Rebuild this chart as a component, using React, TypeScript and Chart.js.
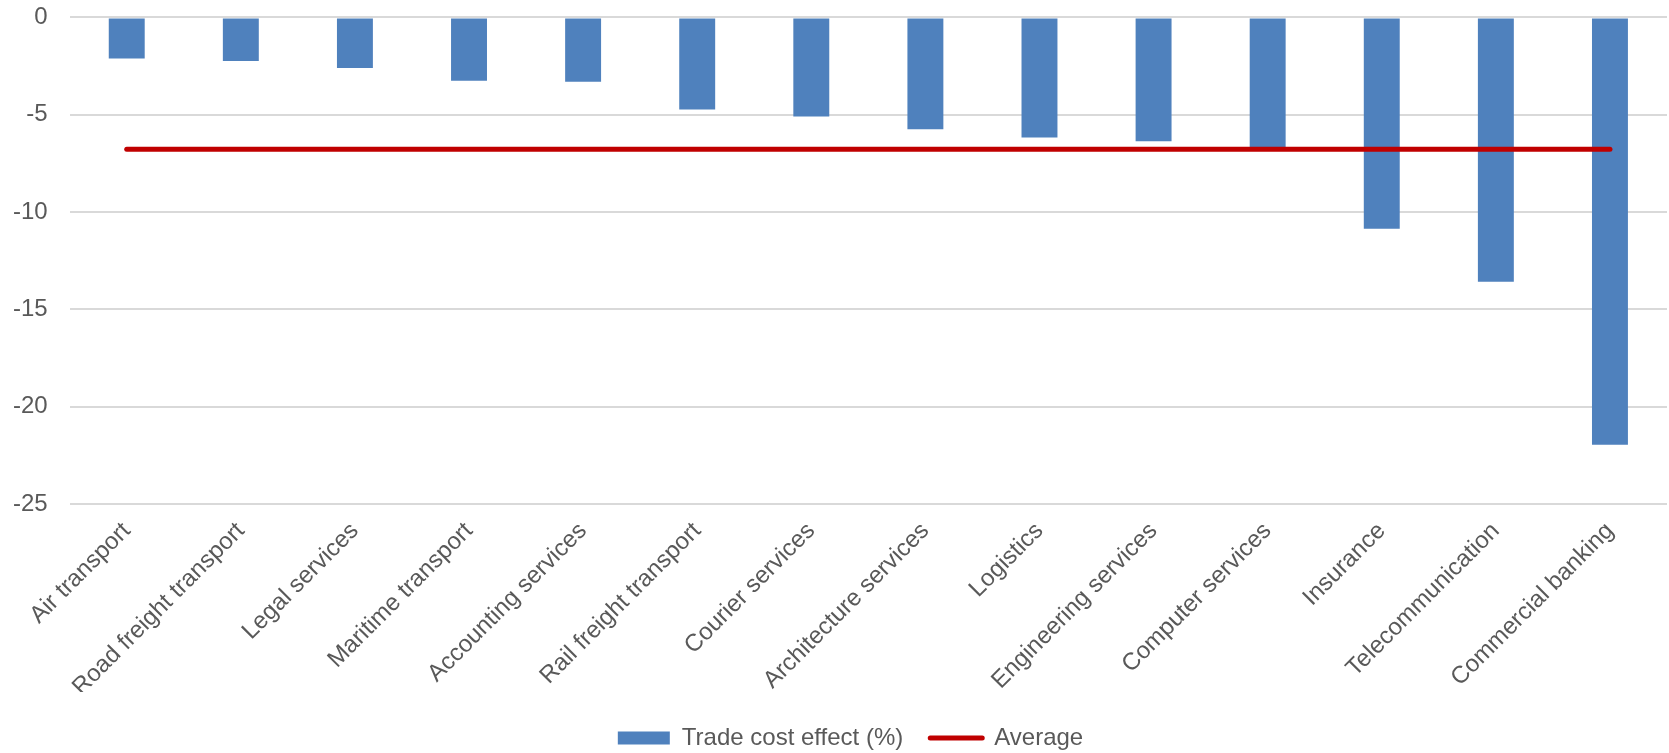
import React, { useEffect, useRef } from "react";
import { Chart, registerables } from "chart.js";

Chart.register(...registerables);

const categories = [
  "Air transport",
  "Road freight transport",
  "Legal services",
  "Maritime transport",
  "Accounting services",
  "Rail freight transport",
  "Courier services",
  "Architecture services",
  "Logistics",
  "Engineering services",
  "Computer services",
  "Insurance",
  "Telecommunication",
  "Commercial banking",
];

const tradeCostEffect = [
  -2.11, -2.24, -2.6, -3.25, -3.3, -4.73, -5.09, -5.75, -6.17, -6.36, -6.72, -10.86, -13.58, -21.95,
];

const averageValues = [
  -6.78, -6.78, -6.78, -6.78, -6.78, -6.78, -6.78, -6.78, -6.78, -6.78, -6.78, -6.78, -6.78, -6.78,
];

const seriesLabels = ["Trade cost effect (%)", "Average"];

const FONT = "'Liberation Sans', Arial, sans-serif";
const TEXT = "#595959";
const BLUE = "#4F81BD";
const RED = "#C00000";

const legendShift = {
  id: "legendShift",
  afterLayout(chart: any) {
    const lg = chart.legend;
    if (lg) {
      lg.top += 7;
      lg.bottom += 7;
      lg.left += 12;
      lg.right += 12;
    }
  },
};

export default function App() {
  const ref = useRef<HTMLCanvasElement | null>(null);

  useEffect(() => {
    if (!ref.current) return;
    const chart = new Chart(ref.current, {
      type: "bar",
      data: {
        labels: categories,
        datasets: [
          {
            type: "bar",
            label: seriesLabels[0],
            data: tradeCostEffect,
            backgroundColor: BLUE,
            borderWidth: 0,
            barPercentage: 0.315,
            categoryPercentage: 1,
            order: 1,
          },
          {
            type: "line",
            label: seriesLabels[1],
            data: averageValues,
            borderColor: RED,
            backgroundColor: RED,
            borderWidth: 5,
            borderCapStyle: "round",
            pointRadius: 0,
            pointHoverRadius: 0,
            fill: false,
            order: 0,
          },
        ],
      },
      options: {
        animation: false,
        responsive: true,
        maintainAspectRatio: false,
        layout: { padding: { top: 17, left: 10, right: 2, bottom: 0 } },
        plugins: {
          tooltip: { enabled: false },
          legend: {
            position: "bottom",
            fullSize: true,
            labels: {
              usePointStyle: true,
              pointStyleWidth: 52,
              boxHeight: 13,
              padding: 27,
              color: TEXT,
              font: { family: FONT, size: 24 },
              generateLabels: () => [
                {
                  text: seriesLabels[0],
                  fillStyle: BLUE,
                  strokeStyle: BLUE,
                  lineWidth: 0,
                  pointStyle: "rect",
                  datasetIndex: 0,
                  hidden: false,
                  fontColor: TEXT,
                },
                {
                  text: seriesLabels[1],
                  fillStyle: RED,
                  strokeStyle: RED,
                  lineWidth: 5,
                  lineCap: "round",
                  pointStyle: "line",
                  datasetIndex: 1,
                  hidden: false,
                  fontColor: TEXT,
                },
              ],
            },
          },
        },
        scales: {
          x: {
            grid: { display: false, drawTicks: false },
            border: { display: false },
            ticks: {
              autoSkip: false,
              maxRotation: 45,
              minRotation: 45,
              padding: 13,
              color: TEXT,
              font: { family: FONT, size: 24 },
            },
            afterFit: (s: any) => {
              s.height = 188;
            },
          },
          y: {
            min: -25,
            max: 0,
            grid: {
              color: "#D9D9D9",
              lineWidth: 2,
              drawTicks: true,
              tickLength: 19,
              tickColor: "rgba(0,0,0,0)",
            },
            border: { display: false },
            ticks: {
              stepSize: 5,
              padding: 3,
              color: TEXT,
              font: { family: FONT, size: 24 },
            },
          },
        },
      },
      plugins: [legendShift],
    } as any);
    return () => chart.destroy();
  }, []);

  return (
    <div style={{ position: "fixed", left: 0, top: 0, width: 1669, height: 753, background: "#fff" }}>
      <canvas ref={ref} />
    </div>
  );
}
